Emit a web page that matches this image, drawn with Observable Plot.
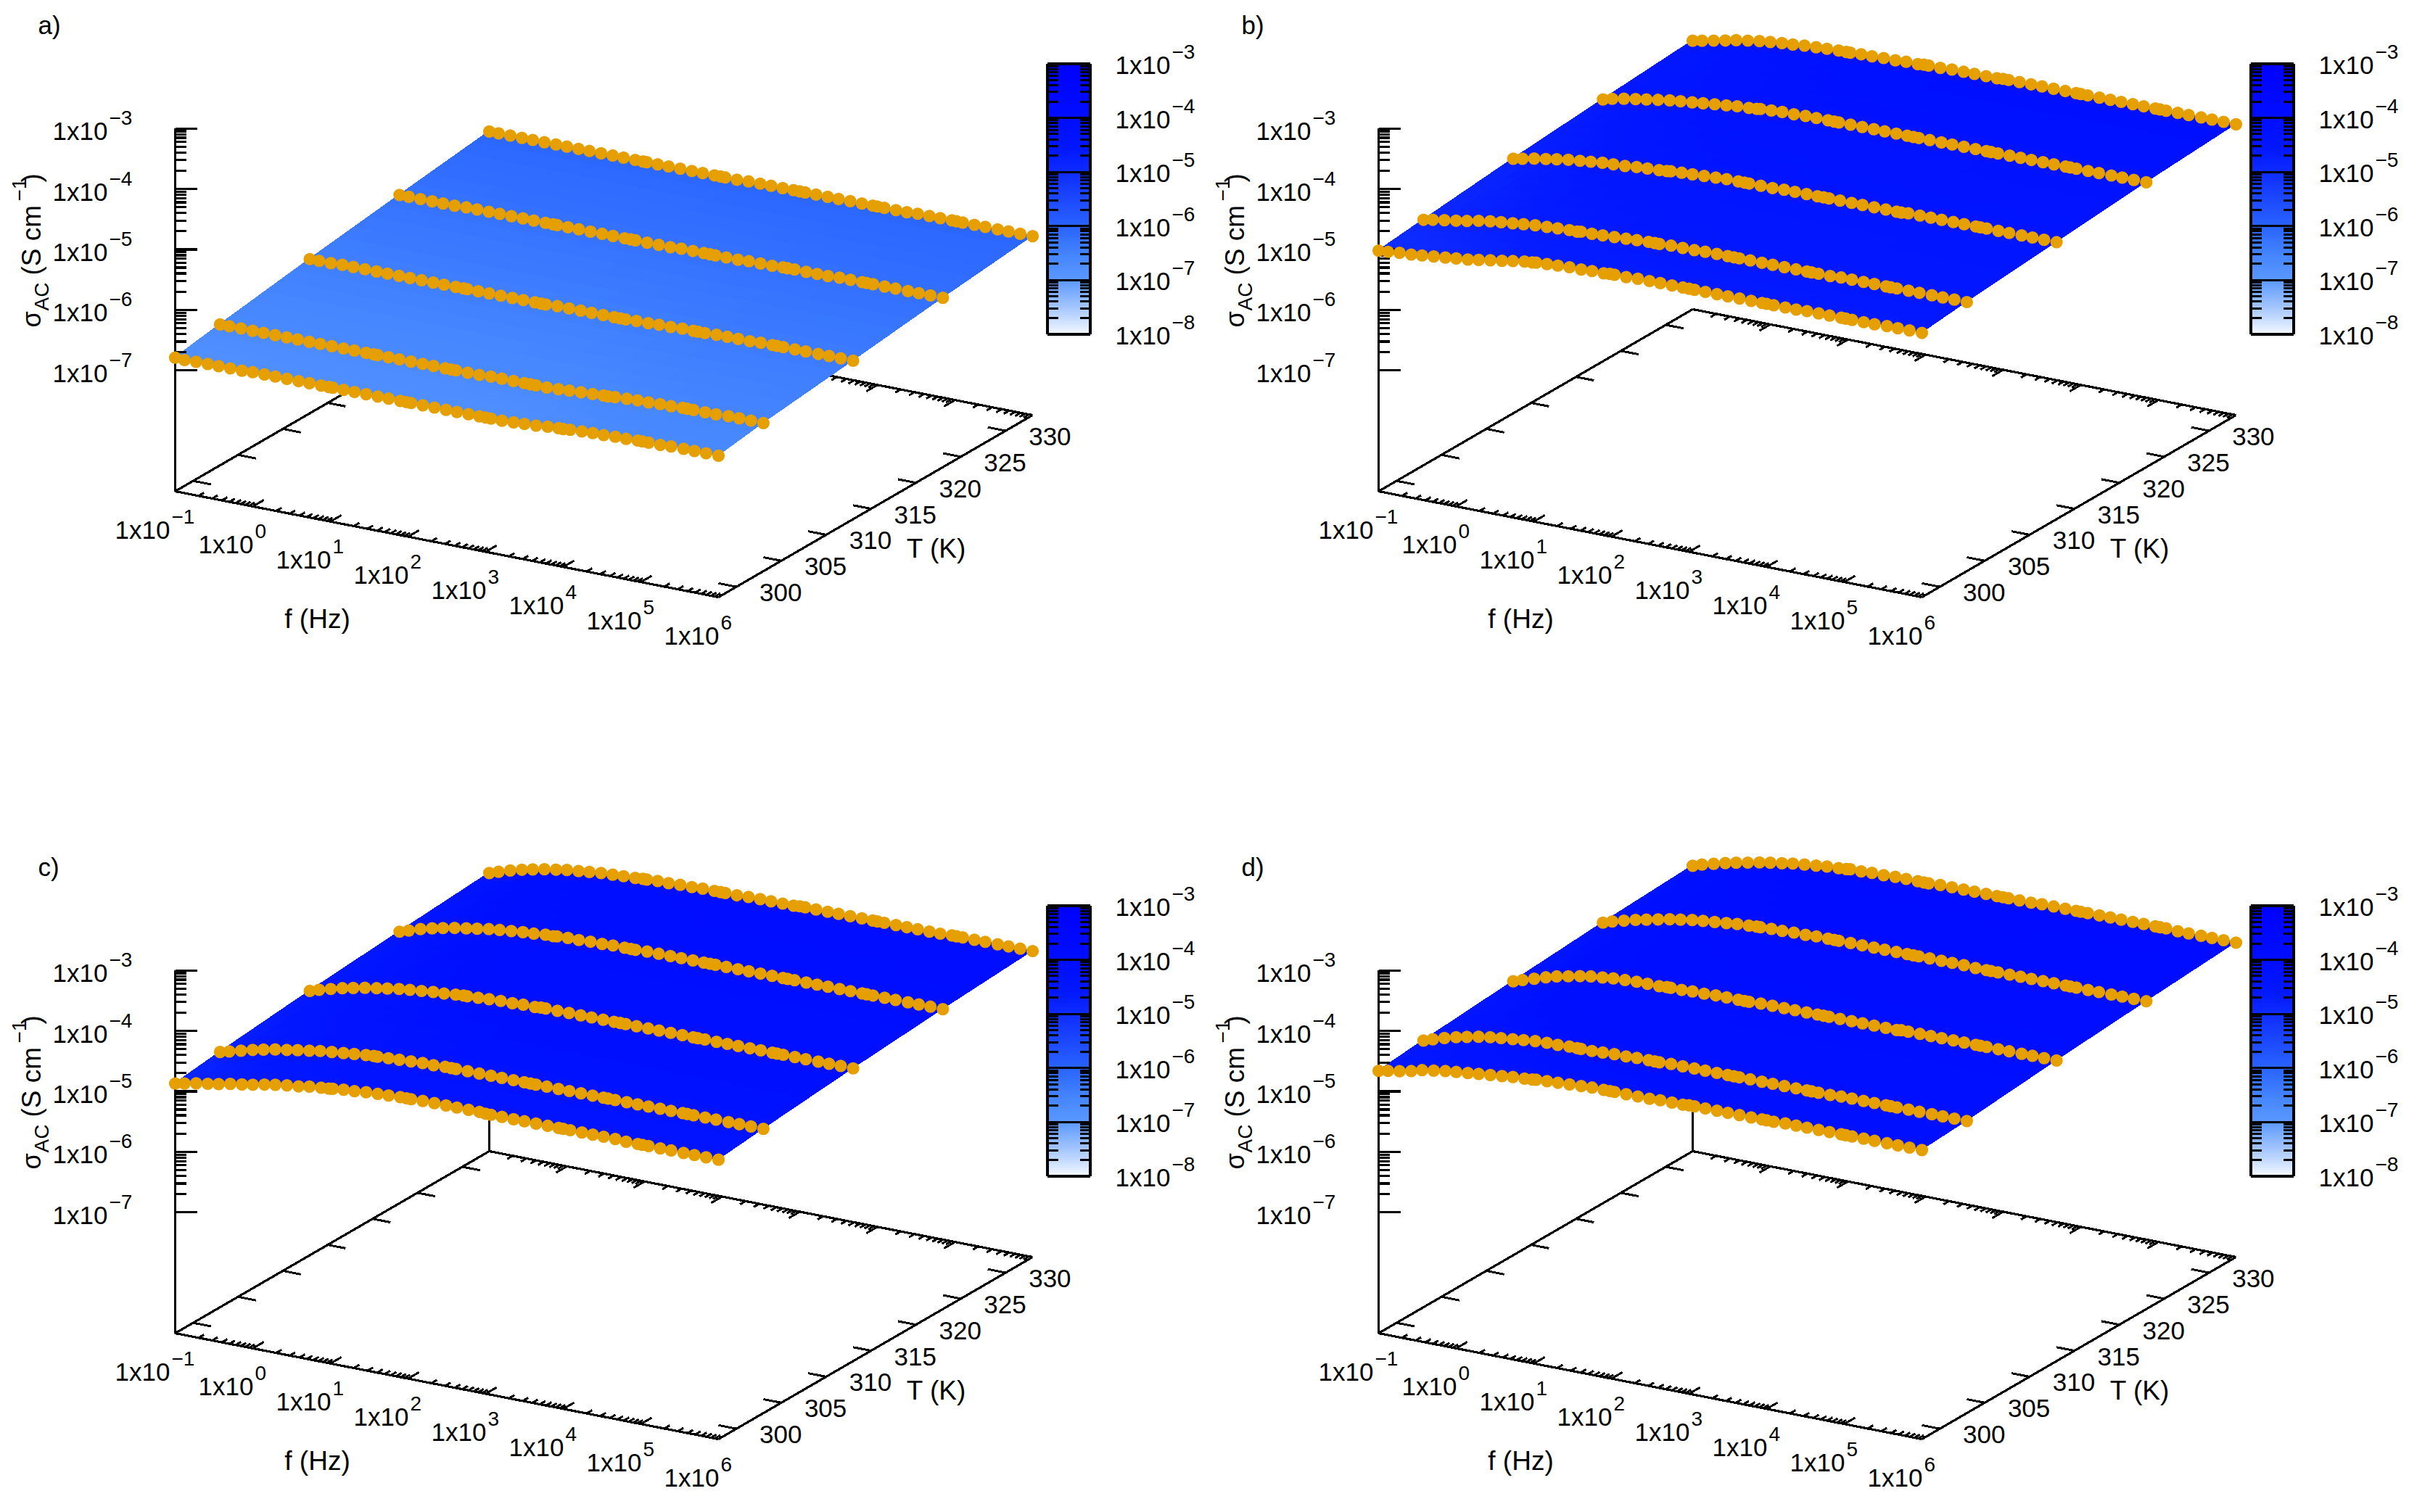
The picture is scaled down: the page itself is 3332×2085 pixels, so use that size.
<!DOCTYPE html>
<html>
<head>
<meta charset="utf-8">
<script src="https://cdn.jsdelivr.net/npm/d3@7"></script>
<script src="https://cdn.jsdelivr.net/npm/@observablehq/plot@0.6"></script>
<style>
  body { margin: 0; background: white; }
  #charts { display: grid; grid-template-columns: 1659px 1673px; grid-template-rows: 1161px 924px; }
  #charts svg { display: block; max-width: none; }
</style>
</head>
<body>
<div id="charts"></div>
<script>
// log10 of frequency (Hz), same list for every temperature
const logF = [
  -1.00,-0.88,-0.73,-0.58,-0.44,-0.29,-0.14,
  0.00,0.15,0.29,0.44,0.59,0.73,0.88,
  0.98,1.03,1.17,1.31,1.46,1.61,1.75,1.90,
  1.98,2.04,2.19,2.34,2.49,2.63,2.78,2.92,
  3.00,3.07,3.21,3.36,3.50,3.65,3.80,3.94,
  4.00,4.09,4.24,4.38,4.52,4.67,4.81,4.96,
  5.02,5.10,5.25,5.39,5.55,5.69,5.84,6.00
]
const temps = [298, 303, 313, 323, 333]

// log10 of sigma AC, one row per temperature
const sigmaA = [
  [-6.79,-6.80,-6.79,-6.79,-6.79,-6.79,-6.79, -6.78,-6.78,-6.78,-6.78,-6.78,-6.78,-6.78, -6.78,-6.78,-6.78,-6.78,-6.78,-6.78,-6.78,-6.78, -6.78,-6.78,-6.78,-6.78,-6.78,-6.78,-6.78,-6.78, -6.78,-6.78,-6.78,-6.77,-6.76,-6.75,-6.73,-6.72, -6.72,-6.71,-6.70,-6.69,-6.69,-6.68,-6.68,-6.67, -6.67,-6.67,-6.67,-6.66,-6.66,-6.66,-6.66,-6.66],
  [-6.67,-6.67,-6.67,-6.67,-6.67,-6.67,-6.67, -6.67,-6.67,-6.67,-6.67,-6.67,-6.67,-6.67, -6.67,-6.67,-6.67,-6.67,-6.67,-6.67,-6.67,-6.67, -6.67,-6.67,-6.67,-6.67,-6.66,-6.66,-6.66,-6.66, -6.66,-6.66,-6.66,-6.65,-6.64,-6.63,-6.62,-6.61, -6.61,-6.60,-6.59,-6.58,-6.58,-6.57,-6.57,-6.56, -6.56,-6.56,-6.56,-6.56,-6.55,-6.55,-6.55,-6.55],
  [-6.45,-6.45,-6.45,-6.44,-6.44,-6.44,-6.44, -6.44,-6.44,-6.44,-6.44,-6.44,-6.44,-6.44, -6.44,-6.44,-6.44,-6.44,-6.44,-6.44,-6.44,-6.44, -6.44,-6.44,-6.43,-6.43,-6.43,-6.43,-6.43,-6.43, -6.43,-6.43,-6.42,-6.42,-6.41,-6.41,-6.40,-6.40, -6.40,-6.40,-6.39,-6.39,-6.39,-6.39,-6.38,-6.38, -6.38,-6.38,-6.38,-6.38,-6.38,-6.38,-6.38,-6.38],
  [-6.25,-6.25,-6.25,-6.25,-6.25,-6.25,-6.24, -6.24,-6.24,-6.24,-6.24,-6.24,-6.24,-6.24, -6.24,-6.24,-6.24,-6.24,-6.24,-6.24,-6.24,-6.24, -6.24,-6.24,-6.24,-6.24,-6.24,-6.23,-6.23,-6.23, -6.23,-6.23,-6.23,-6.23,-6.22,-6.22,-6.22,-6.21, -6.21,-6.21,-6.21,-6.21,-6.21,-6.20,-6.20,-6.20, -6.20,-6.20,-6.20,-6.20,-6.20,-6.20,-6.20,-6.20],
  [-6.06,-6.06,-6.06,-6.06,-6.06,-6.06,-6.06, -6.06,-6.06,-6.06,-6.06,-6.06,-6.06,-6.06, -6.06,-6.06,-6.06,-6.06,-6.06,-6.06,-6.06,-6.06, -6.06,-6.06,-6.06,-6.05,-6.05,-6.05,-6.05,-6.05, -6.05,-6.05,-6.05,-6.05,-6.05,-6.05,-6.05,-6.05, -6.05,-6.05,-6.05,-6.05,-6.04,-6.04,-6.04,-6.04, -6.04,-6.04,-6.04,-6.04,-6.04,-6.04,-6.04,-6.04]
]
const sigmaB = [
  [-5.02,-5.01,-4.99,-4.98,-4.96,-4.94,-4.92, -4.90,-4.88,-4.85,-4.82,-4.79,-4.76,-4.73, -4.72,-4.71,-4.70,-4.69,-4.68,-4.68,-4.67,-4.67, -4.66,-4.66,-4.66,-4.65,-4.65,-4.65,-4.65,-4.65, -4.65,-4.65,-4.65,-4.65,-4.65,-4.65,-4.65,-4.65, -4.65,-4.65,-4.65,-4.65,-4.64,-4.64,-4.64,-4.64, -4.64,-4.64,-4.64,-4.64,-4.63,-4.63,-4.63,-4.63],
  [-4.94,-4.91,-4.88,-4.85,-4.82,-4.78,-4.75, -4.73,-4.71,-4.69,-4.67,-4.66,-4.65,-4.64, -4.64,-4.63,-4.63,-4.62,-4.61,-4.60,-4.59,-4.58, -4.58,-4.58,-4.57,-4.57,-4.57,-4.56,-4.56,-4.56, -4.56,-4.56,-4.56,-4.56,-4.56,-4.56,-4.56,-4.56, -4.56,-4.56,-4.56,-4.55,-4.55,-4.55,-4.55,-4.55, -4.55,-4.55,-4.55,-4.55,-4.55,-4.55,-4.55,-4.55],
  [-4.79,-4.76,-4.72,-4.69,-4.66,-4.63,-4.61, -4.59,-4.57,-4.56,-4.55,-4.53,-4.52,-4.51, -4.50,-4.49,-4.48,-4.47,-4.46,-4.45,-4.44,-4.44, -4.44,-4.44,-4.44,-4.44,-4.43,-4.43,-4.43,-4.43, -4.43,-4.43,-4.43,-4.43,-4.43,-4.43,-4.43,-4.43, -4.43,-4.42,-4.42,-4.42,-4.42,-4.42,-4.42,-4.42, -4.42,-4.42,-4.42,-4.42,-4.42,-4.42,-4.42,-4.42],
  [-4.67,-4.63,-4.59,-4.56,-4.53,-4.50,-4.47, -4.45,-4.43,-4.41,-4.39,-4.37,-4.35,-4.34, -4.33,-4.32,-4.31,-4.30,-4.30,-4.29,-4.29,-4.29, -4.29,-4.29,-4.29,-4.29,-4.29,-4.29,-4.29,-4.29, -4.29,-4.29,-4.29,-4.29,-4.29,-4.29,-4.29,-4.29, -4.29,-4.29,-4.29,-4.29,-4.29,-4.29,-4.29,-4.29, -4.29,-4.29,-4.29,-4.29,-4.29,-4.29,-4.29,-4.29],
  [-4.56,-4.53,-4.49,-4.45,-4.41,-4.38,-4.35, -4.33,-4.31,-4.30,-4.28,-4.27,-4.26,-4.25, -4.25,-4.25,-4.24,-4.24,-4.23,-4.23,-4.22,-4.22, -4.21,-4.21,-4.21,-4.20,-4.20,-4.20,-4.20,-4.20, -4.19,-4.19,-4.19,-4.19,-4.19,-4.19,-4.19,-4.19, -4.19,-4.19,-4.19,-4.19,-4.19,-4.19,-4.19,-4.19, -4.19,-4.19,-4.19,-4.19,-4.19,-4.19,-4.19,-4.19]
]
const sigmaC = [
  [-4.87,-4.84,-4.80,-4.77,-4.74,-4.70,-4.67, -4.64,-4.60,-4.57,-4.54,-4.52,-4.49,-4.47, -4.46,-4.45,-4.43,-4.42,-4.40,-4.39,-4.38,-4.37, -4.37,-4.37,-4.36,-4.36,-4.36,-4.36,-4.36,-4.36, -4.37,-4.37,-4.37,-4.37,-4.37,-4.37,-4.37,-4.37, -4.37,-4.37,-4.37,-4.37,-4.37,-4.37,-4.38,-4.38, -4.38,-4.38,-4.38,-4.38,-4.38,-4.38,-4.38,-4.38],
  [-4.78,-4.74,-4.69,-4.64,-4.60,-4.56,-4.53, -4.50,-4.47,-4.44,-4.42,-4.40,-4.38,-4.36, -4.35,-4.35,-4.34,-4.33,-4.32,-4.31,-4.31,-4.30, -4.30,-4.30,-4.30,-4.30,-4.30,-4.30,-4.30,-4.30, -4.30,-4.30,-4.30,-4.30,-4.30,-4.30,-4.30,-4.30, -4.30,-4.30,-4.30,-4.30,-4.30,-4.30,-4.30,-4.30, -4.30,-4.30,-4.30,-4.30,-4.30,-4.30,-4.30,-4.30],
  [-4.63,-4.58,-4.53,-4.48,-4.44,-4.40,-4.37, -4.34,-4.31,-4.29,-4.27,-4.25,-4.24,-4.22, -4.21,-4.21,-4.20,-4.19,-4.18,-4.18,-4.17,-4.17, -4.16,-4.16,-4.16,-4.16,-4.16,-4.16,-4.16,-4.16, -4.16,-4.16,-4.16,-4.16,-4.16,-4.16,-4.16,-4.16, -4.16,-4.16,-4.16,-4.16,-4.16,-4.16,-4.16,-4.16, -4.16,-4.16,-4.16,-4.16,-4.16,-4.16,-4.16,-4.16],
  [-4.51,-4.46,-4.40,-4.35,-4.31,-4.27,-4.24, -4.21,-4.18,-4.16,-4.14,-4.12,-4.11,-4.09, -4.09,-4.08,-4.07,-4.07,-4.06,-4.06,-4.05,-4.05, -4.05,-4.05,-4.04,-4.04,-4.04,-4.04,-4.04,-4.04, -4.04,-4.04,-4.04,-4.04,-4.04,-4.04,-4.04,-4.04, -4.04,-4.04,-4.04,-4.04,-4.04,-4.04,-4.04,-4.04, -4.04,-4.04,-4.04,-4.04,-4.04,-4.04,-4.04,-4.04],
  [-4.40,-4.35,-4.29,-4.24,-4.20,-4.16,-4.13, -4.10,-4.08,-4.06,-4.04,-4.03,-4.02,-4.01, -4.00,-4.00,-3.99,-3.99,-3.98,-3.98,-3.97,-3.97, -3.97,-3.97,-3.97,-3.96,-3.96,-3.96,-3.96,-3.96, -3.95,-3.95,-3.95,-3.95,-3.95,-3.95,-3.95,-3.95, -3.95,-3.95,-3.95,-3.95,-3.95,-3.95,-3.95,-3.94, -3.94,-3.94,-3.94,-3.94,-3.94,-3.94,-3.94,-3.94]
]
const sigmaD = [
  [-4.66,-4.63,-4.60,-4.56,-4.51,-4.48,-4.45, -4.43,-4.41,-4.39,-4.37,-4.35,-4.33,-4.32, -4.31,-4.30,-4.29,-4.28,-4.27,-4.26,-4.25,-4.25, -4.25,-4.25,-4.25,-4.25,-4.25,-4.24,-4.24,-4.24, -4.23,-4.23,-4.23,-4.23,-4.23,-4.23,-4.23,-4.23, -4.23,-4.23,-4.22,-4.22,-4.22,-4.22,-4.22,-4.22, -4.22,-4.22,-4.22,-4.22,-4.22,-4.22,-4.22,-4.22],
  [-4.59,-4.54,-4.48,-4.43,-4.39,-4.35,-4.32, -4.30,-4.28,-4.26,-4.24,-4.23,-4.23,-4.22, -4.22,-4.22,-4.22,-4.21,-4.20,-4.20,-4.19,-4.19, -4.19,-4.19,-4.18,-4.18,-4.18,-4.18,-4.18,-4.18, -4.18,-4.18,-4.18,-4.18,-4.18,-4.18,-4.18,-4.18, -4.18,-4.18,-4.18,-4.17,-4.17,-4.17,-4.17,-4.17, -4.17,-4.17,-4.17,-4.17,-4.17,-4.17,-4.17,-4.17],
  [-4.47,-4.42,-4.36,-4.30,-4.25,-4.21,-4.17, -4.14,-4.12,-4.10,-4.09,-4.08,-4.08,-4.08, -4.07,-4.07,-4.07,-4.06,-4.06,-4.05,-4.05,-4.05, -4.05,-4.05,-4.04,-4.04,-4.04,-4.04,-4.04,-4.04, -4.04,-4.04,-4.04,-4.04,-4.04,-4.04,-4.04,-4.04, -4.03,-4.03,-4.03,-4.03,-4.03,-4.03,-4.03,-4.03, -4.03,-4.03,-4.03,-4.03,-4.03,-4.03,-4.03,-4.03],
  [-4.36,-4.31,-4.26,-4.21,-4.17,-4.13,-4.09, -4.06,-4.03,-4.01,-3.99,-3.97,-3.95,-3.94, -3.93,-3.93,-3.92,-3.92,-3.91,-3.91,-3.90,-3.90, -3.90,-3.90,-3.90,-3.90,-3.90,-3.90,-3.90,-3.90, -3.90,-3.90,-3.90,-3.90,-3.90,-3.90,-3.91,-3.91, -3.91,-3.91,-3.91,-3.91,-3.91,-3.91,-3.91,-3.91, -3.91,-3.91,-3.91,-3.91,-3.91,-3.91,-3.91,-3.91],
  [-4.28,-4.23,-4.18,-4.13,-4.09,-4.05,-4.01, -3.98,-3.95,-3.92,-3.90,-3.88,-3.86,-3.85, -3.84,-3.83,-3.83,-3.82,-3.82,-3.81,-3.81,-3.81, -3.81,-3.81,-3.80,-3.80,-3.80,-3.80,-3.80,-3.80, -3.80,-3.80,-3.80,-3.80,-3.79,-3.79,-3.79,-3.79, -3.79,-3.79,-3.79,-3.79,-3.79,-3.79,-3.79,-3.79, -3.79,-3.79,-3.80,-3.80,-3.80,-3.80,-3.80,-3.80]
]

// tick labels and axis ranges
const fDecades = [-1, 0, 1, 2, 3, 4, 5, 6]
const tTicks = [300, 305, 310, 315, 320, 325, 330]
const zDecades = [-7, -6, -5, -4, -3]
const cbDecades = [-8, -7, -6, -5, -4, -3]
const minorFactors = [2, 3, 4, 5, 6, 7, 8, 9]
const panelNames = ['a)', 'b)', 'c)', 'd)']

// palette stops
const colorStops = [-8, -7.5, -7, -6.79, -6.45, -6.05, -5, -4.6, -4.2, -3.8, -3]
const colorRange = ['#f4f9ff', '#a4c6ff', '#5a98ff', '#5090ff', '#4080ff', '#2b66ff', '#0e2cff', '#0318ff', '#0010ff', '#000bff', '#0000ff']

const orange = '#e69f00'
const font = 'Liberation Sans'
const fMin = -1, fSpan = 7, tMin = 298, tSpan = 35, zBottom = -9

// the gnuplot view: where the 3d box lands on the page
const origin = [241, 677], fVec = [749, 146], tVec = [433, -251], zUnit = 83.4
const X = (lf, T) => origin[0] + fVec[0] * (lf - fMin) / fSpan + tVec[0] * (T - tMin) / tSpan
const Y = (lf, T, z) => origin[1] + fVec[1] * (lf - fMin) / fSpan + tVec[1] * (T - tMin) / tSpan - zUnit * (z - zBottom)

// colour box
const cbLeft = 1443.5, cbRight = 1502.5, cbInL = 1445, cbInR = 1501, cbTop = 87.4, cbUnit = 74.6
const cbY = v => cbTop + cbUnit * (-3 - v)
const expText = e => String(e).replace('-', '\u2212')

function link(list, width) {
  return Plot.link(list, {x1: 'x1', y1: 'y1', x2: 'x2', y2: 'y2', stroke: 'black', strokeWidth: width, shapeRendering: 'crispEdges'})
}
function words(list, size, anchor, extra) {
  return Plot.text(list, {x: 'x', y: 'y', text: 's', fontSize: size, textAnchor: anchor, lineAnchor: 'bottom', fontFamily: font, fill: 'black', ...extra})
}

function panel(name, rows, backLine, w, h) {
  // surface: strips between temperature rows, shaded across T like pm3d
  const surface = []
  const shade = 6
  rows.slice(0, -1).forEach((row, r) => {
    const next = rows[r + 1]
    for (let i = 0; i < logF.length - 1; i++) {
      for (let s = 0; s < shade; s++) {
        const a = s / shade, b = (s + 1) / shade
        const v = (row[i] + row[i + 1]) / 2 + ((next[i] + next[i + 1]) - (row[i] + row[i + 1])) / 2 * (a + b) / 2
        for (const j of [i, i + 1]) {
          const T0 = temps[r] + (temps[r + 1] - temps[r]) * a
          const T1 = temps[r] + (temps[r + 1] - temps[r]) * b
          surface.push({
            id: r + '-' + i + '-' + s, v,
            x1: X(logF[j], T0), y1: Y(logF[j], T0, row[j] + (next[j] - row[j]) * a),
            x2: X(logF[j], T1), y2: Y(logF[j], T1, row[j] + (next[j] - row[j]) * b)
          })
        }
      }
    }
  })

  const dots = []
  rows.forEach((row, r) => row.forEach((v, i) => dots.push({x: X(logF[i], temps[r]), y: Y(logF[i], temps[r], v)})))

  // box on the floor
  const tMax = tMin + tSpan, fMax = fMin + fSpan
  const floor = (lf1, T1, lf2, T2) => ({x1: X(lf1, T1), y1: Y(lf1, T1, zBottom), x2: X(lf2, T2), y2: Y(lf2, T2, zBottom)})
  const box = [floor(fMin, tMin, fMax, tMin), floor(fMax, tMin, fMax, tMax), floor(fMax, tMax, fMin, tMax), floor(fMin, tMax, fMin, tMin)]

  const ticks = []
  const fTick = (lf, size) => {
    ticks.push(floor(lf, tMin, lf, tMin + tSpan * size))
    ticks.push(floor(lf, tMax, lf, tMax - tSpan * size))
  }
  fDecades.forEach(d => {
    fTick(d, 0.035)
    if (d < 6) minorFactors.forEach(m => fTick(d + Math.log10(m), 0.0175))
  })
  tTicks.forEach(T => {
    ticks.push(floor(fMax, T, fMax - fSpan * 0.033, T))
    ticks.push(floor(fMin, T, fMin + fSpan * 0.033, T))
  })

  // vertical axis
  const zx = X(fMin, tMin), zy = z => Y(fMin, tMin, z)
  const zAxis = [{x1: zx, y1: zy(zBottom), x2: zx, y2: zy(-3)}]
  zDecades.forEach(d => {
    zAxis.push({x1: zx, y1: zy(d), x2: zx + 30, y2: zy(d)})
    if (d < -3) minorFactors.forEach(m => zAxis.push({x1: zx, y1: zy(d + Math.log10(m)), x2: zx + 15, y2: zy(d + Math.log10(m))}))
  })
  const zBack = backLine ? [{x1: X(fMin, tMax), y1: Y(fMin, tMax, zBottom), x2: X(fMin, tMax), y2: Y(fMin, tMax, -5)}] : []

  // colour box
  const levels = d3.range(-8, -3, 0.02)
  const cbTicks = []
  cbDecades.forEach(d => {
    cbTicks.push({x1: cbInL, y1: cbY(d), x2: cbInR, y2: cbY(d)})
    if (d < -3) minorFactors.forEach(m => {
      const v = d + Math.log10(m)
      cbTicks.push({x1: cbInL, y1: cbY(v), x2: cbInL + 13, y2: cbY(v)})
      cbTicks.push({x1: cbInR - 13, y1: cbY(v), x2: cbInR, y2: cbY(v)})
    })
  })
  const cbFrame = [
    {x1: cbLeft, y1: cbTop, x2: cbRight, y2: cbTop}, {x1: cbRight, y1: cbTop, x2: cbRight, y2: cbY(-8)},
    {x1: cbRight, y1: cbY(-8), x2: cbLeft, y2: cbY(-8)}, {x1: cbLeft, y1: cbY(-8), x2: cbLeft, y2: cbTop}
  ]

  // label pieces: base text and raised exponent are separate text marks
  const base = [], exps = []
  const addLabel = (x, y, e) => {
    base.push({x, y, s: '1x10'})
    exps.push({x: x + 78, y: y - 21, s: expText(e)})
  }
  zDecades.forEach(d => addLabel(72, zy(d) + 16, d))
  fDecades.forEach(d => addLabel(X(d, tMin) + (d < 0 ? -83 : -75), Y(d, tMin, zBottom) + 65, d))
  cbDecades.forEach(d => addLabel(1537, cbY(d) + 14, d))
  const tLabels = tTicks.map(T => ({x: X(fMax, T) + 61, y: Y(fMax, T, zBottom) + 20, s: String(T)}))

  const rot = {rotate: -90}
  return Plot.plot({
    width: w, height: h, margin: 0,
    style: {background: 'white'},
    x: {domain: [0, w], range: [0, w], axis: null},
    y: {domain: [0, h], range: [0, h], axis: null},
    color: {type: 'linear', domain: colorStops, range: colorRange, clamp: true},
    marks: [
      link(box, 3.2),
      link(ticks, 3),
      link(zBack, 2.4),
      Plot.area(surface, {x1: 'x1', y1: 'y1', x2: 'x2', y2: 'y2', z: 'id', fill: 'v', stroke: 'v', strokeWidth: 1, shapeRendering: 'crispEdges'}),
      link(zAxis, 3.2),
      Plot.dot(dots, {x: 'x', y: 'y', r: 8.6, fill: orange}),
      Plot.rect(levels, {x1: cbInL, x2: cbInR, y1: v => cbY(v + 0.02), y2: v => cbY(v) + 0.5, fill: v => v + 0.01, shapeRendering: 'crispEdges'}),
      link(cbTicks, 3),
      link(cbFrame, 3.2),
      words(base, 35, 'start'),
      words(exps, 28, 'start'),
      words(tLabels, 35, 'middle'),
      words([{x: 437, y: 865, s: 'f (Hz)'}], 37, 'middle'),
      words([{x: 1290, y: 768, s: 'T (K)'}], 37, 'middle'),
      words([{x: 52, y: 46, s: name}], 35, 'start'),
      // rotated axis title, built from its pieces
      words([{x: 55, y: 451, s: '\u03c3'}], 36, 'start', rot),
      words([{x: 66, y: 428, s: 'AC'}], 28, 'start', rot),
      words([{x: 55, y: 379, s: '(S cm'}], 37, 'start', rot),
      words([{x: 35, y: 277, s: '\u22121'}], 28, 'start', rot),
      words([{x: 55, y: 251, s: ')'}], 37, 'start', rot)
    ]
  })
}

const charts = document.getElementById('charts')
charts.append(panel(panelNames[0], sigmaA, false, 1659, 1161))
charts.append(panel(panelNames[1], sigmaB, false, 1673, 1161))
charts.append(panel(panelNames[2], sigmaC, true, 1659, 924))
charts.append(panel(panelNames[3], sigmaD, true, 1673, 924))
</script>
</body>
</html>
